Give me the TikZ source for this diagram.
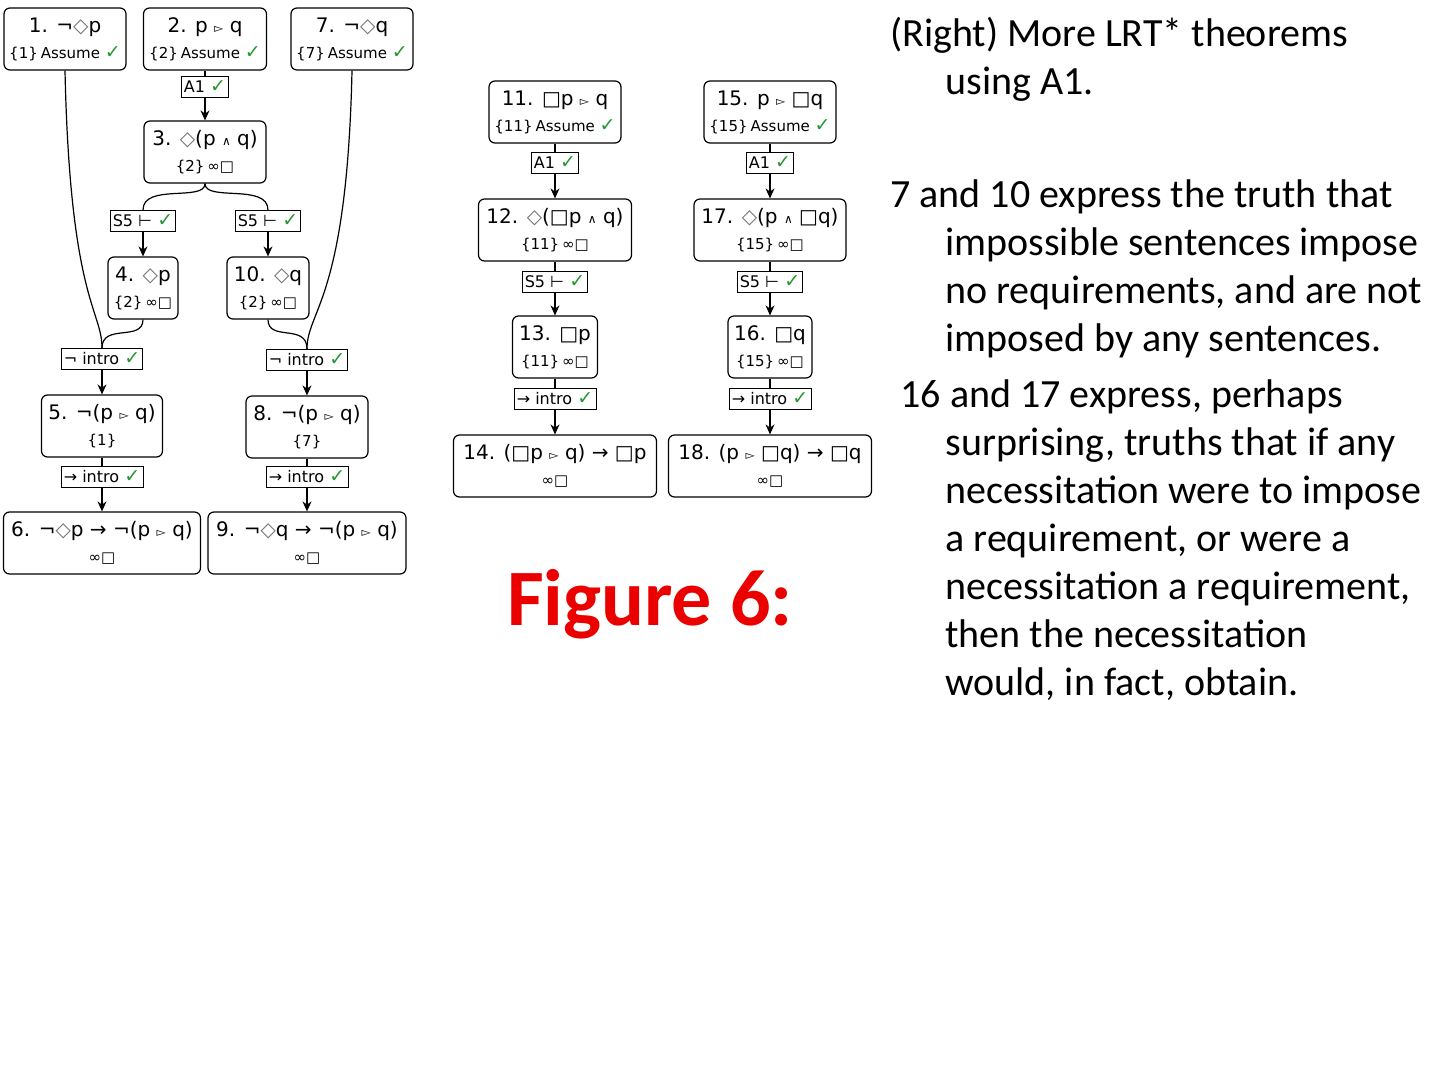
\documentclass[tikz,border=0pt]{standalone}
\usepackage{fontspec}
\setmainfont{Carlito}
\newfontfamily\dv{DejaVu Sans}
\usetikzlibrary{arrows.meta}
\definecolor{okgreen}{RGB}{40,150,50}
\definecolor{figred}{RGB}{235,0,0}
\newcommand{\ok}{{\color{okgreen}\fontsize{9.5}{9}\selectfont ✓}}
\newcommand{\dia}{{\color{black!55}◇}}
\newcommand{\tri}{{\fontsize{6}{6}\selectfont ▻}}
\newcommand{\wedg}{{\fontsize{6}{6}\selectfont ∧}}
\newcommand{\subl}[1]{{\fontsize{7.5}{9}\selectfont #1}}

\begin{document}
\begin{tikzpicture}[x=0.5pt, y=-0.5pt,
  line/.style={draw, rounded corners=3pt, line width=0.6pt, align=center,
    inner sep=1.5pt, minimum height=31pt, font=\dv\fontsize{10}{13}\selectfont},
  rule/.style={draw, fill=white, line width=0.5pt, inner sep=1pt,
    minimum height=10.5pt, font=\dv\fontsize{8}{9}\selectfont},
  link/.style={line width=0.6pt},
  arr/.style={line width=0.6pt, -{Stealth[length=5pt,width=4.5pt]}},
  para/.style={anchor=north west, inner sep=0pt, align=left,
    font=\fontsize{20}{24}\selectfont}]
  \useasboundingbox (0,0) rectangle (1440,1080);

  % left proof
  \node[line, minimum width=61pt] (n1) at (65,39) {1. ¬\dia p\\\subl{\{1\}\kern1.5pt Assume \ok}};
  \node[line, minimum width=61.5pt] (n2) at (205,39) {2. p \tri{} q\\\subl{\{2\}\kern1.5pt Assume \ok}};
  \node[line, minimum width=61pt] (n7) at (352,39) {7. ¬\dia q\\\subl{\{7\}\kern1.5pt Assume \ok}};
  \node[rule, minimum width=22pt] (r2) at (205,87) {A1 \ok};
  \node[line, minimum width=61pt] (n3) at (205,152) {3. \dia(p \wedg{} q)\\\subl{\{2\}\kern1.5pt ∞□}};
  \node[rule, minimum width=30.5pt] (r3a) at (143,221) {S5 ⊢ \ok};
  \node[rule, minimum width=30.5pt] (r3b) at (268,221) {S5 ⊢ \ok};
  \node[line, minimum width=35pt] (n4) at (143,288) {4. \dia p\\\subl{\{2\}\kern1.5pt ∞□}};
  \node[line, minimum width=41pt] (n10) at (268,288) {10. \dia q\\\subl{\{2\}\kern1.5pt ∞□}};
  \node[rule, minimum width=38.5pt] (r4) at (102,359) {¬ intro \ok};
  \node[rule, minimum width=38.5pt] (r10) at (307,360) {¬ intro \ok};
  \node[line, minimum width=60.5pt] (n5) at (102,426) {5. ¬(p \tri{} q)\\\subl{\{1\}}};
  \node[line, minimum width=61pt] (n8) at (307,427) {8. ¬(p \tri{} q)\\\subl{\{7\}}};
  \node[rule, minimum width=41pt] (r5) at (102,477) {→ intro \ok};
  \node[rule, minimum width=41pt] (r8) at (307,477) {→ intro \ok};
  \node[line, minimum width=98.5pt] (n6) at (102,543) {6. ¬\dia p → ¬(p \tri{} q)\\\subl{∞□}};
  \node[line, minimum width=99pt] (n9) at (307,543) {9. ¬\dia q → ¬(p \tri{} q)\\\subl{∞□}};

  \draw[link] (n2) -- (r2);
  \draw[arr] (r2) -- (n3);
  \draw[link] (n3.south) .. controls (205,202) and (143,183) .. (r3a.north);
  \draw[link] (n3.south) .. controls (205,202) and (268,183) .. (r3b.north);
  \draw[arr] (r3a) -- (n4);
  \draw[arr] (r3b) -- (n10);
  \draw[link] (n1.south) .. controls (70,300) and (102,310) .. (r4.north);
  \draw[link] (n4.south) .. controls (143,342) and (102,323) .. (r4.north);
  \draw[link] (n7.south) .. controls (347,300) and (307,310) .. (r10.north);
  \draw[link] (n10.south) .. controls (268,342) and (307,323) .. (r10.north);
  \draw[arr] (r4) -- (n5);
  \draw[arr] (r10) -- (n8);
  \draw[link] (n5) -- (r5);
  \draw[arr] (r5) -- (n6);
  \draw[link] (n8) -- (r8);
  \draw[arr] (r8) -- (n9);

  % middle proofs
  \node[line, minimum width=66pt] (n11) at (555,112) {11. □p \tri{} q\\\subl{\{11\}\kern1.5pt Assume \ok}};
  \node[rule, minimum width=22pt] (r11) at (555,163) {A1 \ok};
  \node[line, minimum width=76.5pt] (n12) at (555,230) {12. \dia(□p \wedg{} q)\\\subl{\{11\}\kern1.5pt ∞□}};
  \node[rule, minimum width=30.5pt] (r12) at (555,282) {S5 ⊢ \ok};
  \node[line, minimum width=42.5pt] (n13) at (555,347) {13. □p\\\subl{\{11\}\kern1.5pt ∞□}};
  \node[rule, minimum width=41pt] (r13) at (555,399) {→ intro \ok};
  \node[line, minimum width=101.5pt] (n14) at (555,466) {14. (□p \tri{} q) → □p\\\subl{∞□}};

  \node[line, minimum width=66pt] (n15) at (770,112) {15. p \tri{} □q\\\subl{\{15\}\kern1.5pt Assume \ok}};
  \node[rule, minimum width=22pt] (r15) at (770,163) {A1 \ok};
  \node[line, minimum width=76pt] (n17) at (770,230) {17. \dia(p \wedg{} □q)\\\subl{\{15\}\kern1.5pt ∞□}};
  \node[rule, minimum width=30.5pt] (r17) at (770,282) {S5 ⊢ \ok};
  \node[line, minimum width=42pt] (n16) at (770,347) {16. □q\\\subl{\{15\}\kern1.5pt ∞□}};
  \node[rule, minimum width=41pt] (r16) at (770,399) {→ intro \ok};
  \node[line, minimum width=101.5pt] (n18) at (770,466) {18. (p \tri{} □q) → □q\\\subl{∞□}};

  \draw[link] (n11) -- (r11);
  \draw[arr] (r11) -- (n12);
  \draw[link] (n12) -- (r12);
  \draw[arr] (r12) -- (n13);
  \draw[link] (n13) -- (r13);
  \draw[arr] (r13) -- (n14);
  \draw[link] (n15) -- (r15);
  \draw[arr] (r15) -- (n17);
  \draw[link] (n17) -- (r17);
  \draw[arr] (r17) -- (n16);
  \draw[link] (n16) -- (r16);
  \draw[arr] (r16) -- (n18);

  \node[anchor=base, text=figred, font=\bfseries\fontsize{40}{48}\selectfont] (fig) at (650,625) {Figure 6:};

  % notes
  \node[para] (p1) at (890,17) {(Right) More LRT* theorems\\\hspace*{27.5pt}using A1.};
  \node[para] (p2) at (890,179) {7 and 10 express the truth that\\\hspace*{27.5pt}impossible sentences impose\\\hspace*{27.5pt}no requirements, and are not\\\hspace*{27.5pt}imposed by any sentences.};
  \node[para] (p3) at (890,379) {\hspace*{5pt}16 and 17 express, perhaps\\\hspace*{27.5pt}surprising, truths that if any\\\hspace*{27.5pt}necessitation were to impose\\\hspace*{27.5pt}a requirement, or were a\\\hspace*{27.5pt}necessitation a requirement,\\\hspace*{27.5pt}then the necessitation\\\hspace*{27.5pt}would, in fact, obtain.};
\end{tikzpicture}
\end{document}
